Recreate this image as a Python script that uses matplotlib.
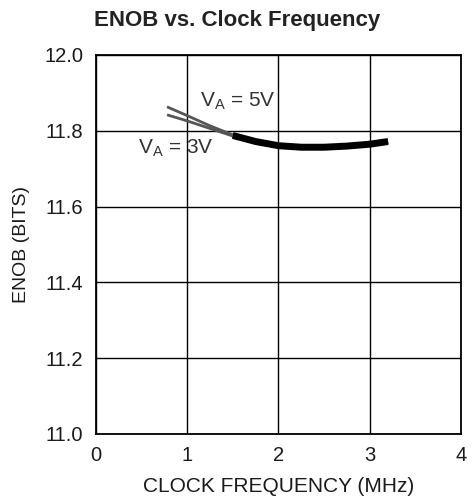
import numpy as np
import matplotlib.pyplot as plt

plt.rcParams['font.family'] = ['Liberation Sans', 'DejaVu Sans']

# ENOB vs clock frequency for two supply voltages
freq_mhz = [0.78, 1.0, 1.25, 1.5, 1.75, 2.0, 2.25, 2.5, 2.75, 3.0, 3.2]
enob_5v = [11.863, 11.840, 11.813, 11.789, 11.773, 11.762, 11.758, 11.758, 11.761, 11.766, 11.773]
enob_3v = [11.842, 11.826, 11.806, 11.786, 11.770, 11.759, 11.755, 11.755, 11.758, 11.763, 11.770]
x_ticks = [0, 1, 2, 3, 4]
y_ticks = [11.0, 11.2, 11.4, 11.6, 11.8, 12.0]
merge_freq = 1.5

fig = plt.figure(figsize=(4.72, 5.04), dpi=100)
ax = fig.add_axes([0.203, 0.139, 0.774, 0.752])

x = np.array(freq_mhz)
split = x <= merge_freq
for enob in (enob_5v, enob_3v):
    y = np.array(enob)
    ax.plot(x[split], y[split], color='#555555', lw=2.0, solid_capstyle='butt', zorder=3)
    ax.plot(x[x >= merge_freq - 0.1], y[x >= merge_freq - 0.1], color='black', lw=4.2,
            solid_capstyle='butt', zorder=3)

ax.text(1.14, 11.863, r'$\mathregular{V_A}$ = 5V', fontsize=15, color='#333333',
        va='baseline', zorder=4)
ax.text(0.46, 11.739, r'$\mathregular{V_A}$ = 3V', fontsize=15, color='#333333',
        va='baseline', zorder=4)

ax.set_xlim(0, 4)
ax.set_ylim(11.0, 12.0)
ax.set_xticks(x_ticks)
ax.set_yticks(y_ticks)
ax.set_yticklabels([f'{v:.1f}' for v in y_ticks])
ax.grid(True, color='black', lw=1.0)
ax.set_axisbelow(True)
ax.tick_params(length=0, labelsize=14.5, colors='#1a1a1a', pad=9)
for s in ax.spines.values():
    s.set_linewidth(1.3)

ax.set_xlabel('CLOCK FREQUENCY (MHz)', fontsize=15, color='#1a1a1a', labelpad=8)
ax.set_ylabel('ENOB (BITS)', fontsize=14, color='#1a1a1a', labelpad=10)
fig.text(0.502, 0.96, 'ENOB vs. Clock Frequency', fontsize=16, fontweight='bold',
         color='#222222', ha='center', va='center')

fig.savefig('out.png', dpi=100)
